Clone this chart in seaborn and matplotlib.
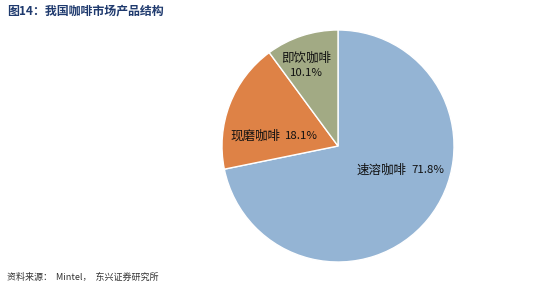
import matplotlib
matplotlib.use("Agg")
import matplotlib.pyplot as plt
import seaborn as sns

categories = ["速溶咖啡", "现磨咖啡", "即饮咖啡"]
shares = [71.8, 18.1, 10.1]
colors = ["#94B4D4", "#DE8246", "#A2AA84"]

sns.set_theme(style="white")
plt.rcParams['font.family'] = ['Noto Sans CJK SC', 'DejaVu Sans']

fig = plt.figure(figsize=(5.5, 2.91), dpi=100)
fig.patch.set_facecolor("white")

cx, cy, r = 338, 146, 116
W, H = 550, 291
ax = fig.add_axes([(cx - r) / W, 1 - (cy + r) / H, 2 * r / W, 2 * r / H])
wedges, _ = ax.pie(shares, colors=colors, startangle=90, counterclock=False,
                   wedgeprops=dict(edgecolor="white", linewidth=1.0))
ax.set_aspect("equal")
ax.set_xlim(-1, 1)
ax.set_ylim(-1, 1)
ax.axis("off")

def px(x, y):
    return ((x - cx) / r, (cy - y) / r)

# labels
x, y = px(357, 170)
ax.text(x, y, categories[0], fontsize=9, ha="left", va="center", color="#111111")
x, y = px(411, 170)
ax.text(x, y, f"{shares[0]}%", fontsize=8.2, ha="left", va="center", color="#111111")

x, y = px(230, 136)
ax.text(x, y, categories[1], fontsize=9, ha="left", va="center", color="#111111")
x, y = px(285, 136)
ax.text(x, y, f"{shares[1]}%", fontsize=8.2, ha="left", va="center", color="#111111")

x, y = px(306, 58)
ax.text(x, y, categories[2], fontsize=9, ha="center", va="center", color="#111111")
x, y = px(306, 73)
ax.text(x, y, f"{shares[2]}%", fontsize=8.2, ha="center", va="center", color="#111111")

fig.text(7 / W, 1 - 11 / H, "图14：我国咖啡市场产品结构", fontsize=8.6, fontweight="bold",
         color="#1F3A6E", ha="left", va="center")
fig.text(7 / W, 1 - 277 / H, "资料来源：  Mintel，  东兴证券研究所", fontsize=6.5,
         style="italic", color="#333333", ha="left", va="center")

fig.savefig("out.png", dpi=100, facecolor="white")
